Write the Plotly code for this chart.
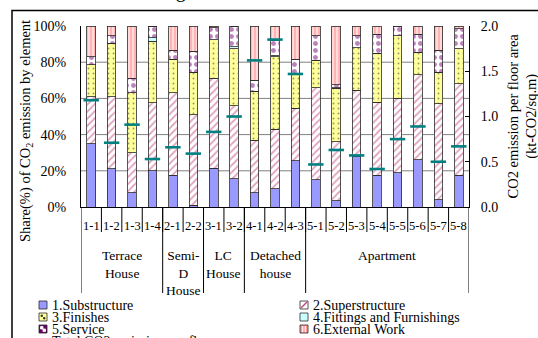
import plotly.graph_objects as go

# ---- data -------------------------------------------------------------
cases = ["1-1", "1-2", "1-3", "1-4", "2-1", "2-2", "3-1", "3-2", "4-1", "4-2",
         "4-3", "5-1", "5-2", "5-3", "5-4", "5-5", "5-6", "5-7", "5-8"]

# share (%) of CO2 emission by building element
substructure = [35, 21, 8, 20, 17.5, 1, 21.5, 15.5, 8, 10,
                25.5, 15, 3.5, 28, 17.5, 19, 26, 4, 17.5]
superstructure = [26, 40, 22, 37.5, 45.5, 50, 49.5, 40.5, 29, 33,
                  29, 51, 32.5, 36.5, 40.5, 41, 47, 53, 50.5]
finishes = [17.5, 29.5, 33, 34, 18.5, 23.5, 21.5, 31.5, 27, 40,
            18.5, 15, 29.5, 23.5, 27, 34.5, 12.5, 17.5, 19.5]
fittings = [0, 0, 0, 2, 0, 0, 0, 1, 0, 0.5,
            0, 0, 0.5, 0, 0, 0, 0, 0, 0]
service = [4.5, 4, 8, 6.5, 5, 11.5, 6.5, 11.5, 6, 8.5,
           8.5, 13.5, 1.5, 6.5, 10.5, 5, 10, 12, 11]
external = [17, 5.5, 29, 0, 13.5, 14, 1, 0, 30, 8,
            18.5, 5.5, 32.5, 5.5, 4.5, 0.5, 4.5, 13.5, 1.5]

# total CO2 emission per floor area (kt-CO2/sq.m)
total_per_area = [1.18, 0.71, 0.91, 0.53, 0.66, 0.59, 0.83, 1.00, 1.62, 1.85,
                  1.47, 0.47, 0.63, 0.57, 0.42, 0.75, 0.89, 0.50, 0.67]

groups = ["Terrace<br>House", "Semi-<br>D<br>House", "LC<br>House",
          "Detached<br>house", "Apartment"]
group_sizes = [4, 2, 2, 3, 8]

share_ticks = [0, 20, 40, 60, 80, 100]
area_ticks = [0.0, 0.5, 1.0, 1.5, 2.0]

element_names = ["1.Substructure", "2.Superstructure", "3.Finishes",
                 "4.Fittings and Furnishings", "5.Service", "6.External Work"]
total_name = "Total CO2 emission per floor area"

# ---- styles -----------------------------------------------------------
FONT = "Liberation Serif, Times New Roman, serif"
OUTLINE = dict(color="#2a2a2a", width=0.8)
TEAL = "#008080"

styles = [
    dict(color="#9999FF"),
    dict(color="white", pattern=dict(shape="/", fgcolor="#c0457c", bgcolor="white",
                                     size=5, solidity=0.35)),
    dict(color="#FFFF99", pattern=dict(shape=".", fgcolor="#333333", bgcolor="#FFFF99",
                                       size=5, solidity=0.12)),
    dict(color="#CCFFFF"),
    dict(color="white", pattern=dict(shape=".", fgcolor="#7a0a7a", bgcolor="white",
                                     size=7, solidity=0.4)),
    dict(color="#FFB0B0", pattern=dict(shape="|", fgcolor="#FF8C8C", bgcolor="#FFDADA",
                                       size=4, solidity=0.5)),
]

series = [substructure, superstructure, finishes, fittings, service, external]

fig = go.Figure()
for name, vals, st in zip(element_names, series, styles):
    fig.add_bar(x=cases, y=vals, name=name, showlegend=False,
                marker=dict(line=OUTLINE, **st))

fig.add_scatter(x=cases, y=total_per_area, yaxis="y2", mode="markers",
                name=total_name, showlegend=False,
                marker=dict(symbol="line-ew", size=11,
                            line=dict(color=TEAL, width=2.6)))

# ---- geometry helpers (pixel -> paper) --------------------------------
L, R, T, B = 81, 469, 26, 207
W, H = 538, 338


def px(x):
    return (x - L) / (R - L)


def py(y):
    return (B - y) / (B - T)


def font(size):
    return dict(family=FONT, size=size, color="black")


shapes = []
annotations = []

# horizontal grid lines
for v in share_ticks[1:-1]:
    shapes.append(dict(type="line", xref="paper", yref="y", x0=0, x1=1, y0=v, y1=v,
                       line=dict(color="#808080", width=1), layer="below"))

# category separators under the axis
n = len(cases)
for i in range(1, n):
    shapes.append(dict(type="line", xref="x", yref="paper", x0=i - 0.5, x1=i - 0.5,
                       y0=0, y1=py(232), line=dict(color="black", width=1)))

# group separators and group labels
edge = -0.5
shapes.append(dict(type="line", xref="x", yref="paper", x0=edge, x1=edge,
                   y0=0, y1=py(293), line=dict(color="black", width=1)))
for label, size in zip(groups, group_sizes):
    centre = edge + size / 2
    edge += size
    shapes.append(dict(type="line", xref="x", yref="paper", x0=edge, x1=edge,
                       y0=0, y1=py(293), line=dict(color="black", width=1)))
    annotations.append(dict(x=centre, y=py(246), xref="x", yref="paper",
                            text=label, showarrow=False, xanchor="center",
                            yanchor="top", font=font(13.5)))

# case labels
for c in cases:
    annotations.append(dict(x=c, y=py(226), xref="x", yref="paper", text=c,
                            showarrow=False, xanchor="center", yanchor="middle",
                            font=font(12.5)))

# axis titles
annotations.append(dict(x=px(26), y=py(131), xref="paper", yref="paper",
                        text="Share(%) of CO<sub>2</sub> emission by element",
                        textangle=-90, showarrow=False, xanchor="center",
                        yanchor="middle", font=font(14.5)))
annotations.append(dict(x=px(522.5), y=py(116), xref="paper", yref="paper",
                        text="CO2 emission per floor area<br>(kt-CO2/sq.m)",
                        textangle=-90, showarrow=False, xanchor="center",
                        yanchor="middle", font=font(14.5)))

# caption line above the frame
annotations.append(dict(x=px(23), y=py(4), xref="paper", yref="paper",
                        text="Calculated", showarrow=False, xanchor="left",
                        yanchor="bottom", font=font(20)))
annotations.append(dict(x=px(157), y=py(4), xref="paper", yref="paper",
                        text="Figure 5.", showarrow=False, xanchor="left",
                        yanchor="bottom", font=font(20)))

# outer frame
shapes.append(dict(type="rect", xref="paper", yref="paper", x0=px(12), x1=px(600),
                   y0=py(10.5), y1=py(400), line=dict(color="black", width=1.5)))


# ---- legend -----------------------------------------------------------
def rect(x0, y0, x1, y1, fill, line="#2a2a2a"):
    shapes.append(dict(type="rect", xref="paper", yref="paper",
                       x0=px(x0), x1=px(x1), y0=py(y0), y1=py(y1),
                       fillcolor=fill, line=dict(color=line, width=0.8)))


def seg(x0, y0, x1, y1, color, width=1):
    shapes.append(dict(type="line", xref="paper", yref="paper",
                       x0=px(x0), x1=px(x1), y0=py(y0), y1=py(y1),
                       line=dict(color=color, width=width)))


def swatch(kind, x, yc):
    x0, x1, y0, y1 = x, x + 8, yc - 4, yc + 4
    if kind == 0:
        rect(x0, y0, x1, y1, "#9999FF")
    elif kind == 1:
        rect(x0, y0, x1, y1, "white")
        seg(x0 + 1, y1 - 1, x1 - 1, y0 + 1, "#c0457c", 1.5)
    elif kind == 2:
        rect(x0, y0, x1, y1, "#FFFF99")
        rect(x0 + 2, y0 + 2, x0 + 3.5, y0 + 3.5, "#333333", "#333333")
        rect(x1 - 3.5, y1 - 3.5, x1 - 2, y1 - 2, "#333333", "#333333")
    elif kind == 3:
        rect(x0, y0, x1, y1, "#CCFFFF")
    elif kind == 4:
        rect(x0, y0, x1, y1, "#6a006a")
        rect(x0 + 1.5, y0 + 1.5, x0 + 4, y0 + 4, "white", "white")
        rect(x1 - 4, y1 - 4, x1 - 1.5, y1 - 1.5, "white", "white")
    elif kind == 5:
        rect(x0, y0, x1, y1, "#FF9C9C")
        seg(x0 + 2.7, y0 + 1, x0 + 2.7, y1 - 1, "white", 1)
        seg(x0 + 5.3, y0 + 1, x0 + 5.3, y1 - 1, "white", 1)
    else:
        seg(x0 - 1, yc, x1 + 1, yc, TEAL, 2.6)


col_x = [39, 300]
row_y = [305, 317, 329, 341]
legend_entries = element_names + [total_name]
for k, name in enumerate(legend_entries):
    col, row = k % 2, k // 2
    if k == len(element_names):
        col, row = 0, 3
    sx, sy = col_x[col], row_y[row]
    swatch(k, sx, sy)
    annotations.append(dict(x=px(sx + 11), y=py(sy), xref="paper", yref="paper",
                            text=name, showarrow=False, xanchor="left",
                            yanchor="middle", font=font(14)))

# ---- layout -----------------------------------------------------------
fig.update_layout(
    width=W, height=H,
    margin=dict(l=L, r=W - R, t=T, b=H - B, pad=0),
    barmode="stack", bargap=0.58,
    paper_bgcolor="white", plot_bgcolor="white",
    font=font(14),
    showlegend=False,
    xaxis=dict(type="category", categoryorder="array", categoryarray=cases,
               range=[-0.5, n - 0.5], showticklabels=False, ticks="",
               showgrid=False, showline=True, linecolor="black", linewidth=1,
               zeroline=False),
    yaxis=dict(range=[0, 100], tickvals=share_ticks,
               ticktext=[f"{v}%" for v in share_ticks],
               showgrid=False, zeroline=False, showline=True, linecolor="black",
               linewidth=1, ticks="", ticklabelstandoff=11,
               tickfont=font(14)),
    yaxis2=dict(range=[0, 2], tickvals=area_ticks,
                ticktext=[f"{v:.1f}" for v in area_ticks],
                overlaying="y", side="right", showgrid=False, zeroline=False,
                showline=True, linecolor="black", linewidth=1,
                ticks="inside", ticklen=4, tickcolor="black",
                ticklabelstandoff=8, tickfont=font(14)),
    shapes=shapes,
    annotations=annotations,
)

fig.write_html("out.html")
